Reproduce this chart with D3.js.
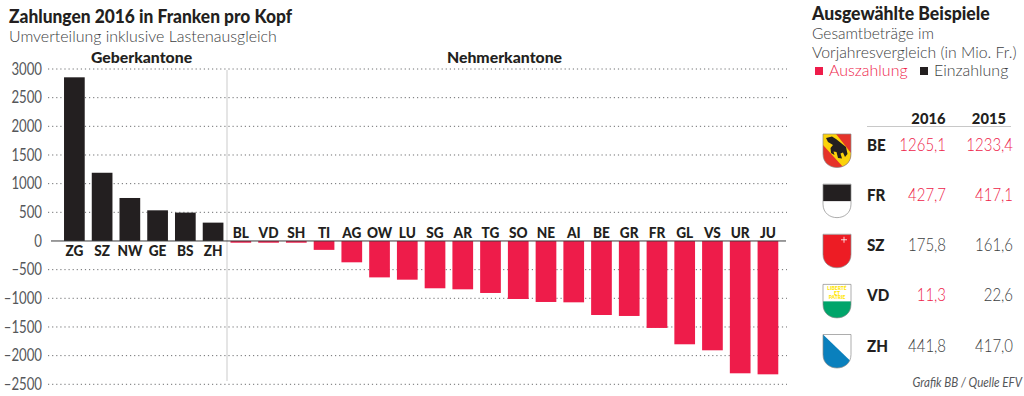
<!DOCTYPE html>
<html lang="de">
<head>
<meta charset="UTF-8">
<title>Zahlungen 2016</title>
<script src="https://cdn.jsdelivr.net/npm/d3@7"></script>
<style>
    body { margin: 0; background: #fff; }
    svg { display: block; }
    text { font-family: "Lato", "Open Sans", sans-serif; }
</style>
</head>
<body>
<script>
    const cantons = ['ZG','SZ','NW','GE','BS','ZH','BL','VD','SH','TI','AG','OW','LU','SG','AR','TG','SO','NE','AI','BE','GR','FR','GL','VS','UR','JU']
    const payments = [2855,1190,750,535,495,320,-30,-30,-30,-155,-372,-635,-675,-825,-843,-907,-1012,-1064,-1070,-1291,-1308,-1517,-1802,-1907,-2308,-2326]
    const yTicks = [3000,2500,2000,1500,1000,500,0,-500,-1000,-1500,-2000,-2500]
    const tableCantons = ['BE','FR','SZ','VD','ZH']
    const values2016 = ['1265,1','427,7','175,8','11,3','441,8']
    const values2015 = ['1233,4','417,1','161,6','22,6','417,0']
    const payout2016 = [true,true,false,true,false]
    const payout2015 = [true,true,false,false,false]

    const [width, height] = [1024, 396]
    const red = '#ee1c4a', black = '#231f20', grey = '#55575a', greyLight = '#3c3e41'
    const svg = d3.select('body').append('svg').attr('width', width).attr('height', height)

    const x = d3.scaleBand().domain(cantons).range([60.5, 781.8]).paddingInner(.254).paddingOuter(.127)
    const y = d3.scaleLinear().domain([-2500, 3000]).range([384.3, 69])

    // sx squeezes the text sideways, the original font is narrower than Lato
    const label = (px, py, str, size, weight, fill, anchor = 'start', sx = 1, style = 'normal') =>
        svg.append('text').attr('transform', `translate(${px},${py}) scale(${sx},1)`).text(str)
            .attr('font-size', size).attr('font-weight', weight).attr('fill', fill)
            .attr('text-anchor', anchor).attr('font-style', style)

    label(9, 23, 'Zahlungen 2016 in Franken pro Kopf', 18, 900, black, 'start', .965)
    label(9, 42, 'Umverteilung inklusive Lastenausgleich', 15.5, 300, greyLight, 'start', 1.03)
    label(141.5, 63, 'Geberkantone', 15.8, 900, black, 'middle')
    label(504.5, 63, 'Nehmerkantone', 15.8, 900, black, 'middle')

    // grid and y labels
    const axis = d3.axisLeft(y).tickValues(yTicks).tickSize(0).tickPadding(0)
        .tickFormat(d => d < 0 ? '\u2013' + Math.abs(d) : d)
    const gy = svg.append('g').attr('transform', 'translate(42,0)').call(axis)
    gy.select('.domain').remove()
    gy.selectAll('text').attr('font-size', 16.5).attr('fill', grey).attr('font-weight', 400)
        .style('font-family', 'Lato').attr('transform', 'scale(.8,1)')
    svg.selectAll('line.grid').data(yTicks.filter(d => d !== 0)).enter().append('line').attr('class', 'grid')
        .attr('x1', 48).attr('x2', 787).attr('y1', d => y(d)).attr('y2', d => y(d))
        .attr('stroke', '#6d6e70').attr('stroke-width', 1).attr('stroke-dasharray', '1.2 2.9')

    svg.append('line').attr('x1', 227).attr('x2', 227).attr('y1', 70).attr('y2', 381)
        .attr('stroke', '#d4d4d4').attr('stroke-width', 1.2)

    svg.selectAll('rect.bar').data(cantons).enter().append('rect').attr('class', 'bar')
        .attr('x', d => x(d)).attr('width', x.bandwidth())
        .attr('y', (d, i) => y(Math.max(0, payments[i])))
        .attr('height', (d, i) => Math.abs(y(payments[i]) - y(0)))
        .attr('fill', (d, i) => payments[i] > 0 ? black : red)

    svg.append('line').attr('x1', 51).attr('x2', 786).attr('y1', y(0)).attr('y2', y(0))
        .attr('stroke', '#3a3a3c').attr('stroke-width', 1)

    svg.selectAll('text.canton').data(cantons).enter().append('text').attr('class', 'canton')
        .attr('transform', (d, i) => `translate(${x(d) + x.bandwidth() / 2},${payments[i] > 0 ? y(0) + 15 : y(0) - 3}) scale(.88,1)`)
        .attr('text-anchor', 'middle').attr('font-size', 15.5).attr('font-weight', 900)
        .attr('fill', black).text(d => d)

    // right panel
    label(812, 20, 'Ausgewählte Beispiele', 18, 900, black, 'start', .98)
    label(812, 39, 'Gesamtbeträge im', 15.5, 300, greyLight, 'start', 1)
    label(812, 58, 'Vorjahresvergleich (in Mio. Fr.)', 15.5, 300, greyLight, 'start', 1.02)
    svg.append('rect').attr('x', 815).attr('y', 67).attr('width', 8).attr('height', 8).attr('fill', red)
    label(829, 76, 'Auszahlung', 15.5, 300, red, 'start', 1.03)
    svg.append('rect').attr('x', 920).attr('y', 67).attr('width', 8).attr('height', 8).attr('fill', black)
    label(934, 76, 'Einzahlung', 15.5, 300, greyLight, 'start', 1.03)

    label(945.5, 124, '2016', 15.5, 900, black, 'end', .95)
    label(1006, 124, '2015', 15.5, 900, black, 'end', .95)
    svg.append('line').attr('x1', 867).attr('x2', 1011).attr('y1', 126.5).attr('y2', 126.5)
        .attr('stroke', '#c8c8c8').attr('stroke-width', 1)

    const rowY = d3.scalePoint().domain(tableCantons).range([151, 351.5])
    const shield = 'M0,0H28V20C28,29 21,33.5 14,33.5C7,33.5 0,29 0,20Z'
    tableCantons.forEach((c, i) => {
        const py = rowY(c)
        label(867, py, c, 16.5, 900, black, 'start', .92)
        label(946, py, values2016[i], 17, 300, payout2016[i] ? red : greyLight, 'end', .88)
        label(1013, py, values2015[i], 17, 300, payout2015[i] ? red : greyLight, 'end', .88)
    })

    const flag = svg.selectAll('g.flag').data(tableCantons).enter().append('g').attr('class', 'flag')
        .attr('transform', d => `translate(823,${rowY(d) - 17})`)
    const defs = svg.append('defs')
    tableCantons.forEach(c => defs.append('clipPath').attr('id', 'clip' + c).append('path').attr('d', shield))
    const inner = flag.append('g').attr('clip-path', d => `url(#clip${d})`)
    inner.each(function (c) {
        const g = d3.select(this)
        if (c === 'BE') {
            g.append('rect').attr('width', 28).attr('height', 34).attr('fill', '#e5332a')
            g.append('path').attr('d', 'M0,0H13L28,19V34H21L0,11Z').attr('fill', '#fbd20a')
            g.append('path').attr('d', 'M3,4L9,2.5L13,5L18,9L23,13L24.5,20L22,23L20,18.5L17.5,19.5L19,24.5L15,24L13.5,18L10.5,17.5L11.5,21L8,19L7.5,14L10,11L5,8Z').attr('fill', black)
        }
        if (c === 'FR') {
            g.append('rect').attr('width', 28).attr('height', 34).attr('fill', '#fff')
            g.append('rect').attr('width', 28).attr('height', 17).attr('fill', black)
        }
        if (c === 'SZ') {
            g.append('rect').attr('width', 28).attr('height', 34).attr('fill', '#ed1c24')
            g.append('path').attr('d', 'M18,5.5H24M21,2.5V8.5').attr('stroke', '#fff').attr('stroke-width', .8)
        }
        if (c === 'VD') {
            g.append('rect').attr('width', 28).attr('height', 34).attr('fill', '#fff')
            g.append('rect').attr('y', 17).attr('width', 28).attr('height', 17).attr('fill', '#00a56a')
            ;[['LIBERTÉ', 6], ['ET', 10.5], ['PATRIE', 15]].forEach(t => {
                g.append('text').attr('x', 14).attr('y', t[1]).attr('text-anchor', 'middle')
                    .attr('font-size', 5).attr('font-weight', 900).attr('fill', '#ffe600').text(t[0])
            })
        }
        if (c === 'ZH') {
            g.append('rect').attr('width', 28).attr('height', 34).attr('fill', '#fff')
            g.append('path').attr('d', 'M0,0L28,27V34H0Z').attr('fill', '#0a80bd')
        }
    })
    flag.append('path').attr('d', shield).attr('fill', 'none').attr('stroke', '#8a8a8a').attr('stroke-width', .7)

    label(1022, 387, 'Grafik BB / Quelle EFV', 13.5, 400, grey, 'end', .86, 'italic')
</script>
</body>
</html>
